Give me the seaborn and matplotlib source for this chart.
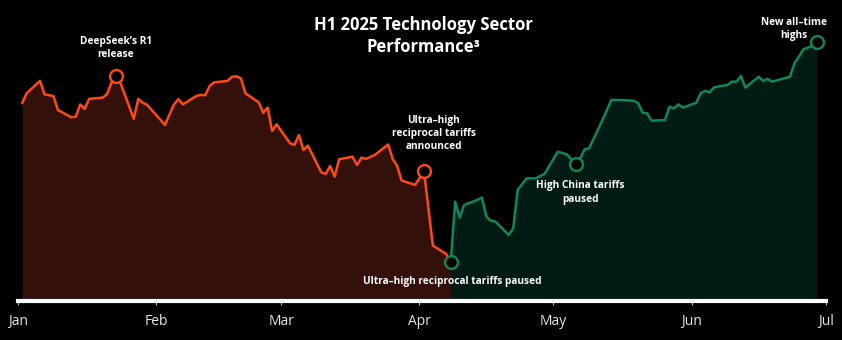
import matplotlib
matplotlib.use("Agg")
import matplotlib.pyplot as plt
import matplotlib.dates as mdates
import seaborn as sns
import pandas as pd
import numpy as np

# ---------------- data ----------------
before_dates = ["2025-01-02","2025-01-03","2025-01-06","2025-01-07","2025-01-09","2025-01-10",
    "2025-01-13","2025-01-14","2025-01-15","2025-01-16","2025-01-17","2025-01-20","2025-01-21",
    "2025-01-22","2025-01-23","2025-01-24","2025-01-27","2025-01-28","2025-01-29","2025-01-30",
    "2025-02-03","2025-02-05","2025-02-06","2025-02-07","2025-02-10","2025-02-11","2025-02-12",
    "2025-02-13","2025-02-14","2025-02-17","2025-02-18","2025-02-19","2025-02-20","2025-02-21",
    "2025-02-24","2025-02-25","2025-02-26","2025-02-27","2025-02-28","2025-03-03","2025-03-04",
    "2025-03-05","2025-03-06","2025-03-07","2025-03-10","2025-03-11","2025-03-12","2025-03-13",
    "2025-03-14","2025-03-17","2025-03-18","2025-03-19","2025-03-20","2025-03-22","2025-03-25",
    "2025-03-26","2025-03-27","2025-03-28","2025-03-31","2025-04-01","2025-04-02","2025-04-04",
    "2025-04-07","2025-04-08"]
before_values = [4382,4437,4505,4431,4422,4345,4305,4308,4376,4351,4406,4413,4431,4495,4532,4495,
    4296,4406,4385,4373,4263,4376,4404,4376,4422,4428,4426,4477,4497,4505,4528,4530,4519,4437,
    4387,4330,4358,4230,4266,4162,4153,4208,4125,4149,4002,3993,4037,3978,4074,4088,4043,4083,
    4076,4098,4155,4076,4037,3957,3933,3969,4010,3599,3553,3507]

after_dates = ["2025-04-08","2025-04-09","2025-04-10","2025-04-11","2025-04-13","2025-04-15",
    "2025-04-16","2025-04-17","2025-04-18","2025-04-21","2025-04-22","2025-04-23","2025-04-25",
    "2025-04-27","2025-04-29","2025-05-02","2025-05-04","2025-05-06","2025-05-07","2025-05-08",
    "2025-05-09","2025-05-12","2025-05-14","2025-05-16","2025-05-19","2025-05-20","2025-05-21",
    "2025-05-22","2025-05-23","2025-05-26","2025-05-27","2025-05-28","2025-05-29","2025-05-30",
    "2025-06-02","2025-06-03","2025-06-04","2025-06-05","2025-06-06","2025-06-09","2025-06-10",
    "2025-06-11","2025-06-12","2025-06-13","2025-06-16","2025-06-17","2025-06-18","2025-06-19",
    "2025-06-23","2025-06-24","2025-06-25","2025-06-26","2025-06-28","2025-06-29"]
after_values = [3507,3841,3753,3823,3841,3863,3758,3736,3731,3658,3694,3905,3969,3969,3993,4116,
    4101,4048,4079,4129,4134,4290,4400,4400,4396,4382,4330,4327,4286,4290,4363,4354,4376,4358,
    4385,4437,4450,4442,4470,4483,4501,4501,4532,4468,4528,4505,4516,4501,4528,4602,4638,4679,
    4697,4717]

event_dates = ["2025-01-23","2025-04-02","2025-04-08","2025-05-06","2025-06-29"]
event_labels = ["DeepSeek\u2019s R1\nrelease",
                "Ultra\u2013high\nreciprocal tariffs\nannounced",
                "Ultra\u2013high reciprocal tariffs paused",
                "High China tariffs\npaused",
                "New all\u2013time\nhighs"]
event_series = ["before","before","after","after","after"]

month_ticks = ["2025-01-01","2025-02-01","2025-03-01","2025-04-01","2025-05-01","2025-06-01","2025-07-01"]
month_labels = ["Jan","Feb","Mar","Apr","May","Jun","Jul"]
title = "H1 2025 Technology Sector\nPerformance\u00b3"

# ---------------- style ----------------
ORANGE = "#FF4A14"
ORANGE_FILL = "#33100A"
GREEN = "#0E875B"
GREEN_FILL = "#001B13"

sns.set_theme(style="dark", rc={"axes.facecolor": "black", "figure.facecolor": "black"})
plt.rcParams["font.family"] = ["Open Sans", "DejaVu Sans"]

df_b = pd.DataFrame({"date": pd.to_datetime(before_dates), "value": before_values})
df_a = pd.DataFrame({"date": pd.to_datetime(after_dates), "value": after_values})

fig = plt.figure(figsize=(8.42, 3.40), dpi=100)
ax = fig.add_axes([17.7 / 842, 38.7 / 340, (825.7 - 17.7) / 842, 301.3 / 340])
ax.set_facecolor("black")

ymin, ymax = 3292.85, 4950
ax.fill_between(df_b["date"], df_b["value"], ymin, color=ORANGE_FILL, linewidth=0, zorder=1)
ax.fill_between(df_a["date"], df_a["value"], ymin, color=GREEN_FILL, linewidth=0, zorder=1)
sns.lineplot(data=df_b, x="date", y="value", ax=ax, color=ORANGE, linewidth=1.8, zorder=3)
sns.lineplot(data=df_a, x="date", y="value", ax=ax, color=GREEN, linewidth=1.8, zorder=3)

# event markers and labels
offsets = [(0, 20), (7, 27), (1, -14), (3.5, -20.5), (-16.5, 9.5)]  # points
for d, lab, s, off in zip(event_dates, event_labels, event_series, offsets):
    src = df_b if s == "before" else df_a
    row = src[src["date"] == pd.Timestamp(d)].iloc[0]
    col = ORANGE if s == "before" else GREEN
    ax.plot([row["date"]], [row["value"]], marker="o", markersize=9.2, markerfacecolor="black",
            markeredgecolor=col, markeredgewidth=1.7, zorder=5, linestyle="none")
    ax.annotate(lab, xy=(row["date"], row["value"]), xytext=off, textcoords="offset points",
                ha="center", va="center", multialignment="center", color="white",
                fontsize=7.3, fontweight="bold", linespacing=1.3, zorder=6)

ax.set_xlim(pd.Timestamp(month_ticks[0]), pd.Timestamp(month_ticks[-1]))
ax.set_ylim(ymin, ymax)
ax.set_xticks(pd.to_datetime(month_ticks))
ax.set_xticklabels(month_labels)
ax.set_yticks([])
ax.set_xlabel("")
ax.set_ylabel("")
ax.grid(False)
for sp in ["top", "right", "left"]:
    ax.spines[sp].set_visible(False)
ax.spines["bottom"].set_visible(True)
ax.spines["bottom"].set_color("white")
ax.spines["bottom"].set_linewidth(3)
ax.spines["bottom"].set_zorder(7)
ax.tick_params(axis="x", direction="out", length=3, width=0.8, color="#bbbbbb",
               labelcolor="#e6e6e6", labelsize=10, pad=6, bottom=True)

fig.text(423.8 / 842, 1 - 36 / 340, title, ha="center", va="center", multialignment="center",
         color="white", fontsize=12, fontweight="bold", linespacing=1.25)

fig.savefig("out.png", dpi=100, facecolor="black")
